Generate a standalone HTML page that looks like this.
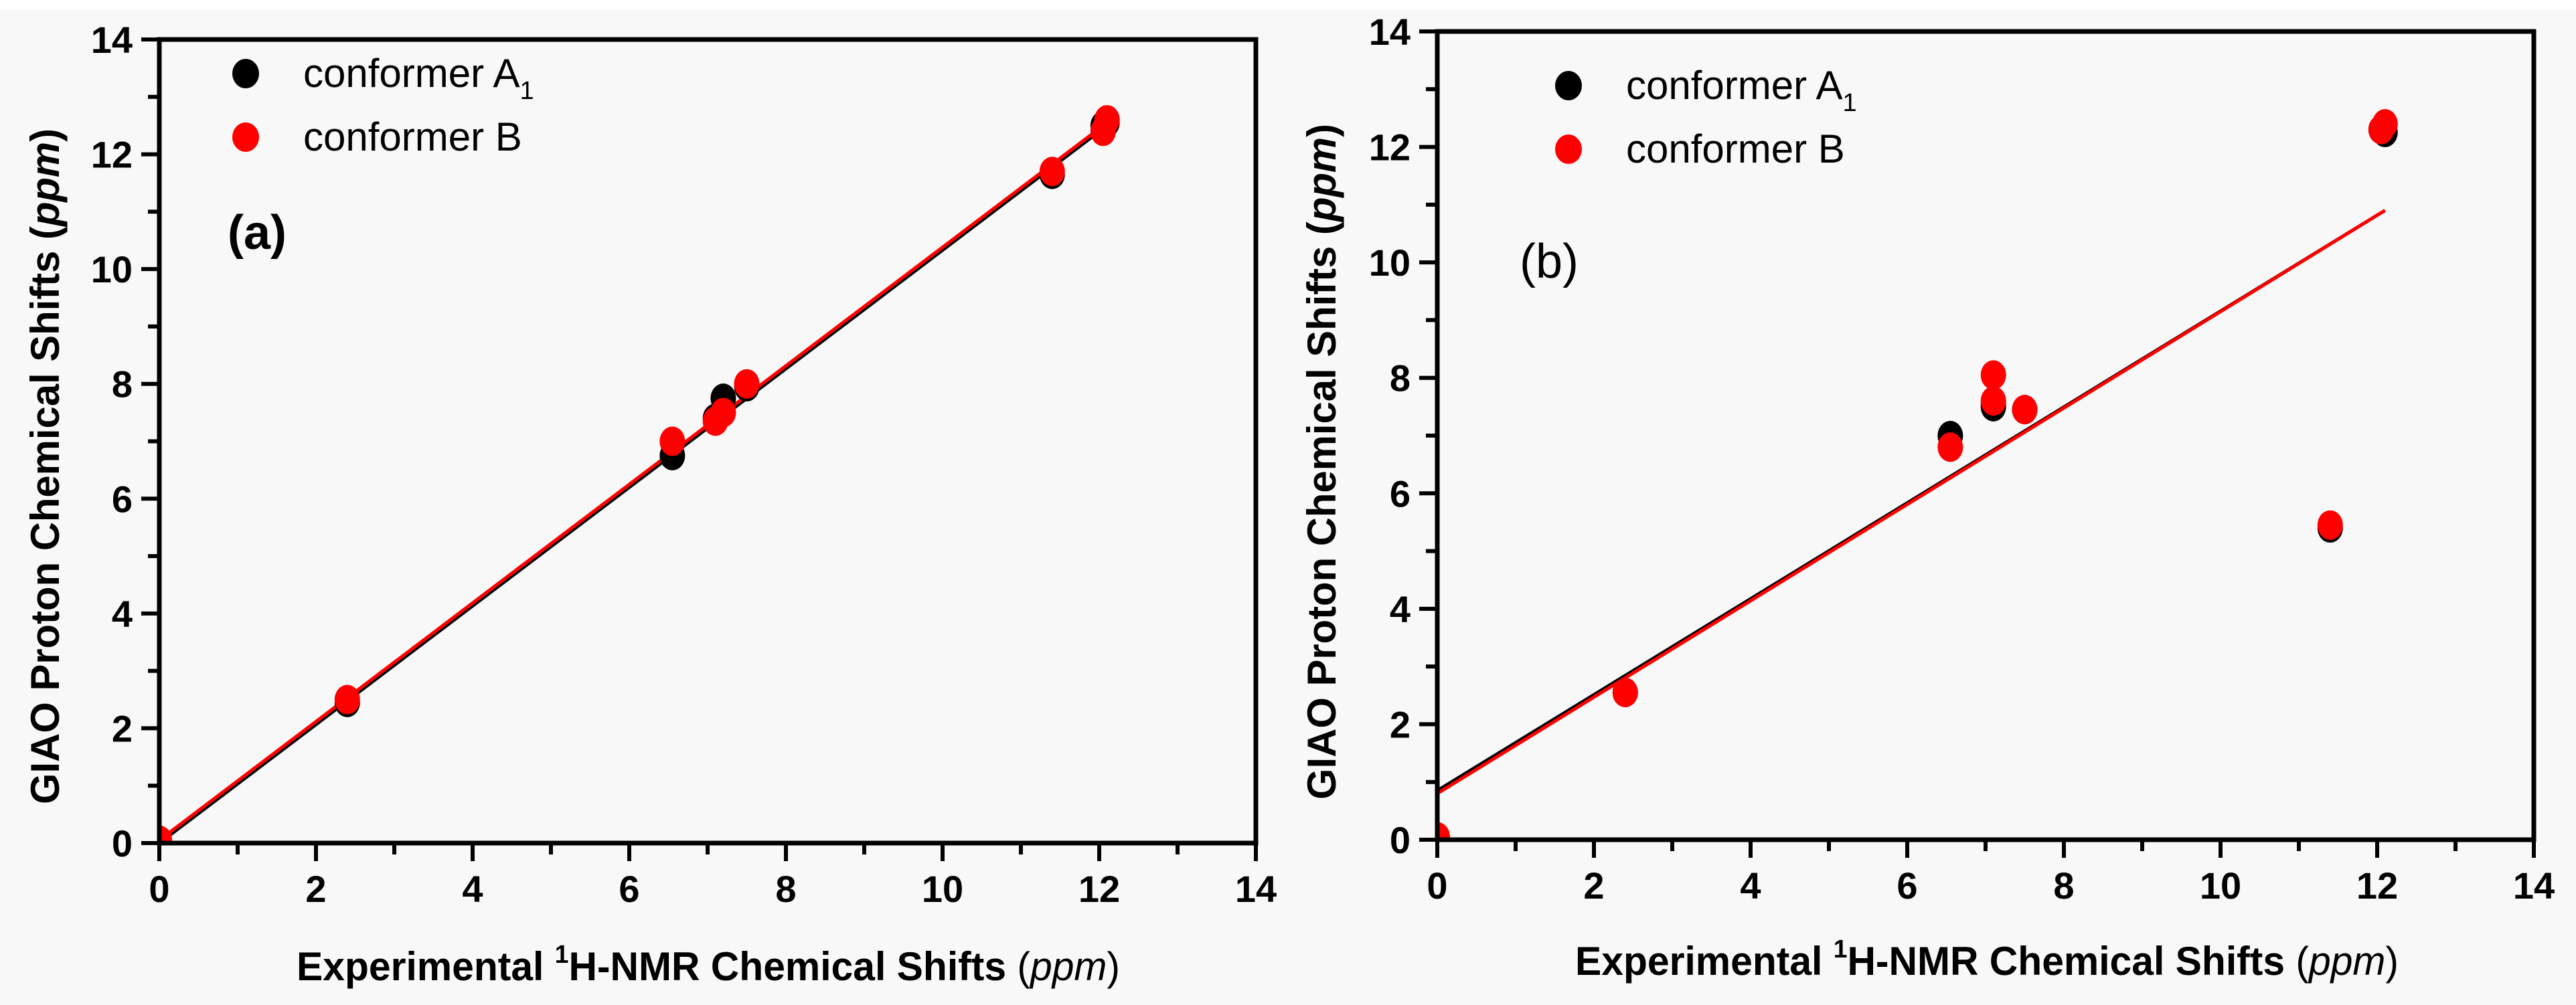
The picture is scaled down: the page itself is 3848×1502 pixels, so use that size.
<!DOCTYPE html>
<html><head><meta charset="utf-8"><style>
html,body{margin:0;padding:0;background:#f8f8f8;}
svg{display:block;font-family:"Liberation Sans",Arial,sans-serif;}
</style></head><body>
<svg id="fig" width="3848" height="1502" viewBox="0 0 3848 1502" xmlns="http://www.w3.org/2000/svg">
<rect x="0" y="0" width="3848" height="1502" fill="#f8f8f8"/>
<rect x="0" y="0" width="3848" height="14" fill="#ffffff"/>
</svg>
<script>
// ---- data ----
const tickValues = [0,2,4,6,8,10,12,14];
const tickLabels = ["0","2","4","6","8","10","12","14"];
const aExpX   = [0,2.4,6.55,7.1,7.2,7.5,11.4,12.05,12.1];
const aCalcA1 = [0,2.45,6.75,7.4,7.75,7.95,11.65,12.5,12.55];
const aCalcB  = [0.05,2.5,7.0,7.35,7.5,8.0,11.7,12.4,12.6];
const aFitA1  = [[0,0.0],[12.1,12.5]];
const aFitB   = [[0,0.05],[12.1,12.55]];
const bExpX   = [0,2.4,6.55,7.1,7.1,7.5,11.4,12.05,12.1];
const bCalcA1 = [0,2.55,7.0,7.5,7.55,7.45,5.4,12.3,12.25];
const bCalcB  = [0.05,2.55,6.8,8.05,7.6,7.45,5.45,12.3,12.4];
const bFitA1  = [[0,0.85],[12.1,10.9]];
const bFitB   = [[0,0.8],[12.1,10.9]];

const NS="http://www.w3.org/2000/svg";
const svg=document.getElementById('fig');
function mk(tag,attrs,parent){const e=document.createElementNS(NS,tag);for(const k in attrs)e.setAttribute(k,attrs[k]);(parent||svg).appendChild(e);return e;}

function panel(p){
  const g=mk('g',{});
  
  
  const sx=v=>p.x0+(v/14)*(p.x1-p.x0);
  const sy=v=>p.y0-(v/14)*(p.y0-p.y1);
  const cid='clip-'+p.name;
  const cp=mk('clipPath',{id:cid},g);
  mk('rect',{x:p.x0,y:p.y1,width:p.x1-p.x0,height:p.y0-p.y1},cp);
  const fits=[[p.fitA1,'#000'],[p.fitB,'#ff0000']];
  fits.forEach((f,i)=>{
    const l=mk('line',{x1:sx(f[0][0][0]),y1:sy(f[0][0][1]),x2:sx(f[0][1][0]),y2:sy(f[0][1][1]),stroke:f[1],'stroke-width':5,'clip-path':'url(#'+cid+')'},g);
    
    
  });
  p.xs.forEach((x,i)=>{
    const c=mk('ellipse',{cx:sx(x),cy:sy(p.a1[i]),rx:19,ry:22,fill:'#000','clip-path':'url(#'+cid+')'},g);
    
    
  });
  p.xs.forEach((x,i)=>{
    const c=mk('ellipse',{cx:sx(x),cy:sy(p.b[i]),rx:19,ry:22,fill:'#ff0000','clip-path':'url(#'+cid+')'},g);
    
    
  });
  const fr=mk('rect',{x:p.x0,y:p.y1,width:p.x1-p.x0,height:p.y0-p.y1,fill:'none',stroke:'#000','stroke-width':7},g);
  
  
  for(let v=0;v<=14;v++){
    const major=v%2===0;
    const t1=mk('line',{x1:sx(v),x2:sx(v),y1:p.y0,y2:p.y0+(major?27:17),stroke:'#000','stroke-width':6},g);
    
    
    const t2=mk('line',{y1:sy(v),y2:sy(v),x1:p.x0,x2:p.x0-(major?27:17),stroke:'#000','stroke-width':6},g);
    
    
  }
  tickValues.forEach((v,i)=>{
    const tx=mk('text',{x:sx(v),y:p.y0+88,'text-anchor':'middle','font-size':56,'font-weight':'bold'},g);
    tx.textContent=tickLabels[i];
    
    
    const ty=mk('text',{x:p.x0-40,y:sy(v)+20,'text-anchor':'end','font-size':56,'font-weight':'bold'},g);
    ty.textContent=tickLabels[i];
    
    
  });
  const lg=mk('g',{},g);
  
  
  const d1=mk('ellipse',{cx:p.lx,cy:p.ly,rx:20,ry:22,fill:'#000'},lg);
  
  
  const t1=mk('text',{x:p.lx+86,y:p.ly+20,'font-size':60},lg);
  t1.innerHTML='conformer A<tspan font-size="38" dy="18">1</tspan>';
  
  
  const d2=mk('ellipse',{cx:p.lx,cy:p.ly+95,rx:20,ry:22,fill:'#ff0000'},lg);
  
  
  const t2=mk('text',{x:p.lx+86,y:p.ly+115,'font-size':60},lg);
  t2.textContent='conformer B';
  
  
  const pl=mk('text',{x:p.plx,y:p.ply,'font-size':72,'font-weight':p.plBold?'bold':'normal'},g);
  pl.textContent=p.label;
  
  
  const xt=mk('text',{x:p.xtx,y:p.xty,'font-size':60,'font-weight':'bold',textLength:p.xtl,lengthAdjust:'spacingAndGlyphs'},g);
  xt.innerHTML='Experimental <tspan font-size="38" dy="-26">1</tspan><tspan dy="26">H-NMR Chemical Shifts </tspan><tspan font-weight="normal">(</tspan><tspan font-style="italic" font-weight="normal">ppm</tspan><tspan font-weight="normal">)</tspan>';
  
  
  const yt=mk('text',{x:0,y:0,'font-size':60,'font-weight':'bold','text-anchor':'middle',textLength:1010,lengthAdjust:'spacingAndGlyphs',transform:'translate('+p.ytx+','+p.yty+') rotate(-90)'},g);
  yt.innerHTML='GIAO Proton Chemical Shifts (<tspan font-style="italic">ppm</tspan>)';
  
  
}

panel({name:'panel-a',x0:238,x1:1876,y0:1260,y1:59,xs:aExpX,a1:aCalcA1,b:aCalcB,fitA1:aFitA1,fitB:aFitB,
  lx:367,ly:110,label:'(a)',plx:340,ply:372,plBold:true,xtx:443,xty:1465,xtl:1230,ytx:88,yty:697});
panel({name:'panel-b',x0:2147,x1:3785,y0:1255,y1:47,xs:bExpX,a1:bCalcA1,b:bCalcB,fitA1:bFitA1,fitB:bFitB,
  lx:2343,ly:128,label:'(b)',plx:2270,ply:415,plBold:false,xtx:2353,xty:1457,xtl:1230,ytx:1995,yty:690});
</script>
</body></html>
